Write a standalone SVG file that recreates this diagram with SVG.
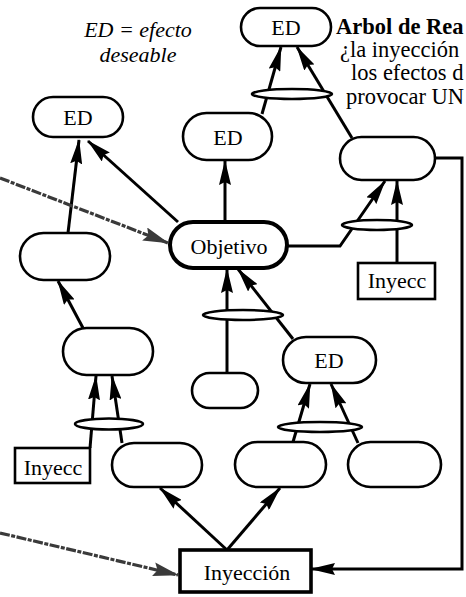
<svg xmlns="http://www.w3.org/2000/svg" width="466" height="597" viewBox="0 0 466 597" font-family="Liberation Serif, Times New Roman, serif">
  <style>
    .pill { fill: #fff; stroke: #000; stroke-width: 2.6; }
    .pill-bold { fill: #fff; stroke: #000; stroke-width: 4; }
    .box { fill: #fff; stroke: #000; stroke-width: 2.6; }
    .box-bold { fill: #fff; stroke: #000; stroke-width: 3.6; }
    .and { fill: #fff; stroke: #000; stroke-width: 2.6; }
    .lbl { text-anchor: middle; fill: #000; font-size: 22px; }
    .note { font-size: 22px; fill: #000; }
    .title { font-size: 22.5px; fill: #000; }
    .edge { fill: none; stroke: #000; stroke-width: 3; }
    .fuzzy { fill: none; stroke: #3a3a3a; stroke-width: 3.2; stroke-dasharray: 10 1.5 4 1.5; }
  </style>
  <defs>
    <marker id="arrow" viewBox="0 0 25 12" refX="24" refY="6" markerWidth="25" markerHeight="12" markerUnits="userSpaceOnUse" orient="auto">
      <path d="M0,0 L25,6 L0,12 L3,6 Z" fill="#000"/>
    </marker>
    <marker id="arrow-gray" viewBox="0 0 26 14" refX="25" refY="7" markerWidth="26" markerHeight="14" markerUnits="userSpaceOnUse" orient="auto">
      <path d="M0,0 L26,7 L0,14 L4,7 Z" fill="#3a3a3a"/>
    </marker>
  </defs>

  <!-- legend and title -->
  <g id="legend">
    <text class="note" x="138" y="37" text-anchor="middle" font-style="italic">ED = efecto</text>
    <text class="note" x="138" y="62" text-anchor="middle" font-style="italic">deseable</text>
  </g>
  <g id="title">
    <text class="title" x="336" y="34" font-weight="bold">Arbol de Rea</text>
    <text class="title" x="340" y="57">¿la inyección</text>
    <text class="title" x="351" y="80">los efectos d</text>
    <text class="title" x="346" y="104">provocar UN</text>
  </g>

  <!-- connectors -->
  <g id="connectors">
    <!-- into ED (left) -->
    <path class="edge" d="M178,222 L88,141" marker-end="url(#arrow)"/>
    <path class="edge" d="M68,233 L79,140" marker-end="url(#arrow)"/>
    <!-- Objetivo to ED (middle) -->
    <path class="edge" d="M225,222 L225,161" marker-end="url(#arrow)"/>
    <!-- ED (middle) + right node to ED (top) -->
    <path class="edge" d="M262,114 L281,47" marker-end="url(#arrow)"/>
    <path class="edge" d="M352,138 L297,47" marker-end="url(#arrow)"/>
    <!-- Objetivo + Inyecc to right node -->
    <path class="edge" d="M287,246 L340,246 L385,181" marker-end="url(#arrow)"/>
    <path class="edge" d="M397,263 L397,181" marker-end="url(#arrow)"/>
    <!-- right node back to Inyección -->
    <path class="edge" d="M435,158 L462,158 L462,569 L311,569" marker-end="url(#arrow)"/>
    <!-- left chain -->
    <path class="edge" d="M83,328 L58,281" marker-end="url(#arrow)"/>
    <path class="edge" d="M90,448 L96,376" marker-end="url(#arrow)"/>
    <path class="edge" d="M122,443 L112,376" marker-end="url(#arrow)"/>
    <!-- into Objetivo from below -->
    <path class="edge" d="M227,373 L227,269" marker-end="url(#arrow)"/>
    <path class="edge" d="M293,339 L238,269" marker-end="url(#arrow)"/>
    <!-- into ED (lower) -->
    <path class="edge" d="M293,442 L310,384" marker-end="url(#arrow)"/>
    <path class="edge" d="M358,443 L331,384" marker-end="url(#arrow)"/>
    <!-- Inyección to bottom nodes -->
    <path class="edge" d="M227,550 L160,488" marker-end="url(#arrow)"/>
    <path class="edge" d="M227,550 L280,488" marker-end="url(#arrow)"/>
    <!-- incoming from outside -->
    <path class="fuzzy" d="M0,178 L168,243" marker-end="url(#arrow-gray)"/>
    <path class="fuzzy" d="M0,533 L178,575" marker-end="url(#arrow-gray)"/>
    <!-- AND junctions -->
    <ellipse class="and" cx="292" cy="94" rx="40" ry="5"/>
    <ellipse class="and" cx="377" cy="225" rx="35" ry="5"/>
    <ellipse class="and" cx="243" cy="315" rx="40" ry="5"/>
    <ellipse class="and" cx="109" cy="424" rx="34" ry="5.5"/>
    <ellipse class="and" cx="320" cy="427" rx="42" ry="5"/>
  </g>

  <!-- nodes -->
  <g id="ed-top">
    <rect class="pill" x="241" y="8" width="90" height="38" rx="19"/>
    <text class="lbl" x="286" y="35">ED</text>
  </g>
  <g id="ed-left">
    <rect class="pill" x="33" y="97" width="90" height="40" rx="20"/>
    <text class="lbl" x="78" y="125">ED</text>
  </g>
  <g id="ed-mid">
    <rect class="pill" x="183" y="113" width="89" height="47" rx="23.5"/>
    <text class="lbl" x="228" y="145">ED</text>
  </g>
  <g id="right-node">
    <rect class="pill" x="340" y="137" width="95" height="43" rx="21.5"/>
  </g>
  <g id="objetivo">
    <rect class="pill-bold" x="170" y="222" width="117" height="46" rx="23"/>
    <text class="lbl" x="229" y="254" font-size="23">Objetivo</text>
  </g>
  <g id="left-node-1">
    <rect class="pill" x="20" y="233" width="90" height="47" rx="23.5"/>
  </g>
  <g id="inyecc-right">
    <rect class="box" x="358" y="263" width="77" height="36"/>
    <text class="lbl" x="397" y="288">Inyecc</text>
  </g>
  <g id="left-node-2">
    <rect class="pill" x="63" y="328" width="90" height="47" rx="23.5"/>
  </g>
  <g id="small-node">
    <rect class="pill" x="192" y="373" width="66" height="35" rx="17.5"/>
  </g>
  <g id="ed-low">
    <rect class="pill" x="283" y="337" width="93" height="46" rx="23"/>
    <text class="lbl" x="329" y="368">ED</text>
  </g>
  <g id="inyecc-left">
    <rect class="box" x="15" y="448" width="75" height="35"/>
    <text class="lbl" x="53" y="475">Inyecc</text>
  </g>
  <g id="bottom-node-1">
    <rect class="pill" x="112" y="443" width="90" height="44" rx="22"/>
  </g>
  <g id="bottom-node-2">
    <rect class="pill" x="235" y="442" width="91" height="45" rx="22.5"/>
  </g>
  <g id="bottom-node-3">
    <rect class="pill" x="348" y="442" width="93" height="45" rx="22.5"/>
  </g>
  <g id="inyeccion">
    <rect class="box-bold" x="180" y="550" width="131" height="42"/>
    <text class="lbl" x="247" y="580" font-size="23">Inyección</text>
  </g>
</svg>
